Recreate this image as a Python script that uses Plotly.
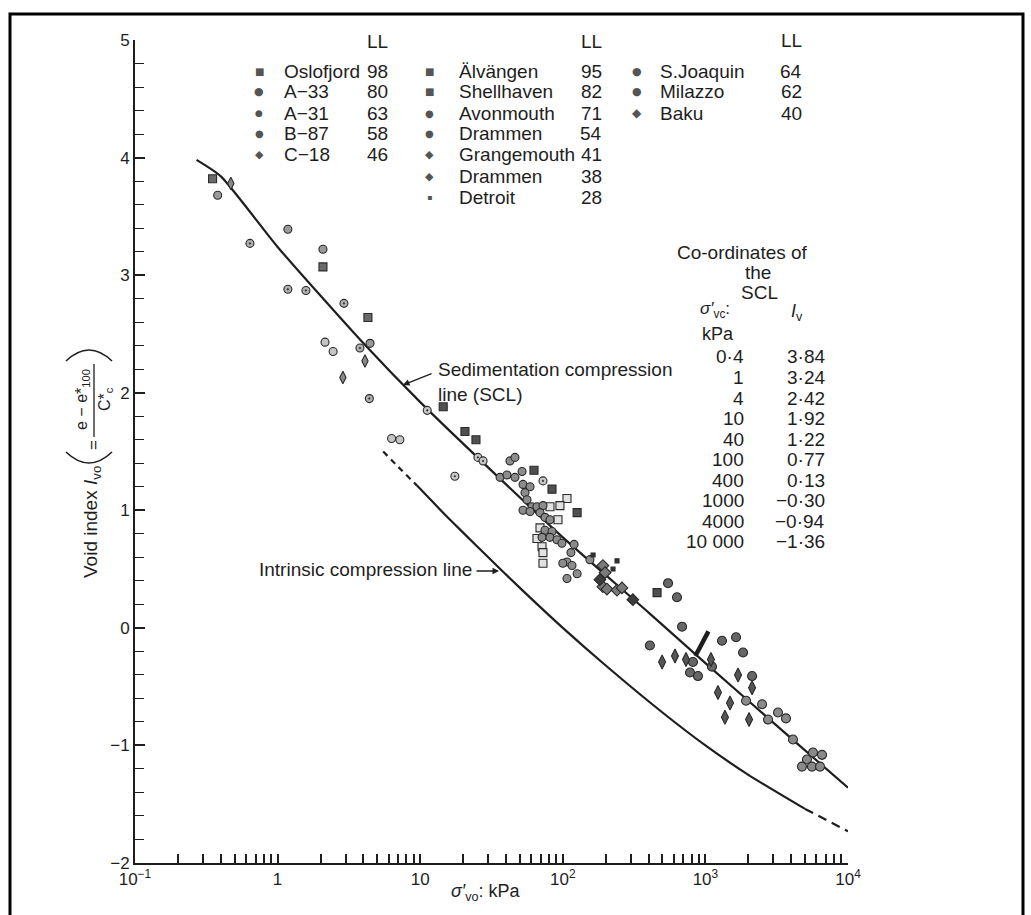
import plotly.graph_objects as go

# ---------------- data ----------------
# Sedimentation compression line (table "Co-ordinates of the SCL")
scl_sigma = [0.4, 1, 4, 10, 40, 100, 400, 1000, 4000, 10000]
scl_iv = [3.84, 3.24, 2.42, 1.92, 1.22, 0.77, 0.13, -0.30, -0.94, -1.36]
scl_start_sigma = 0.27
scl_start_iv = 3.98

# Intrinsic compression line
icl_sigma = [5.5, 7, 9.5, 15, 20, 30, 50, 100, 200, 500, 1000, 2000, 5000, 10000]
icl_iv = [1.50, 1.37, 1.21, 0.96, 0.81, 0.60, 0.34, 0.00, -0.32, -0.72, -1.00, -1.25, -1.54, -1.73]

# short thick bar drawn on the SCL near 10^3 kPa
bar_sigma = [850, 1050]
bar_iv = [-0.24, -0.03]

# sites: name, liquid limit
site_names = ["Oslofjord", "A\u221233", "A\u221231", "B\u221287", "C\u221218",
              "\u00c4lv\u00e4ngen", "Shellhaven", "Avonmouth", "Drammen", "Grangemouth", "Drammen", "Detroit",
              "S.Joaquin", "Milazzo", "Baku"]
site_ll = [98, 80, 63, 58, 46, 95, 82, 71, 54, 41, 38, 28, 64, 62, 40]

oslofjord_sigma = [0.35, 2.08, 4.3]
oslofjord_iv = [3.82, 3.07, 2.64]
a33_sigma = [0.38, 1.18, 2.08, 4.45]
a33_iv = [3.68, 3.39, 3.22, 2.42]
a31_sigma = [2.15, 2.45, 6.3, 7.2]
a31_iv = [2.43, 2.35, 1.61, 1.60]
b87_sigma = [0.64, 1.18, 1.58, 2.92, 3.78, 4.4]
b87_iv = [3.27, 2.88, 2.87, 2.76, 2.38, 1.95]
c18_sigma = [0.47, 2.87, 4.1]
c18_iv = [3.78, 2.13, 2.27]
alvangen_sigma = [107, 95.5, 81.3, 65.9, 71.5, 72.6, 72.6, 69.2, 92.5]
alvangen_iv = [1.10, 1.04, 1.03, 0.76, 0.69, 0.64, 0.55, 0.85, 0.92]
shellhaven_sigma = [14.5, 20.6, 24.6, 62.8, 84, 126, 458]
shellhaven_iv = [1.88, 1.67, 1.60, 1.34, 1.18, 0.98, 0.30]
avonmouth_sigma = [11.2, 17.5, 25.4, 27.6, 72.6]
avonmouth_iv = [1.85, 1.29, 1.45, 1.42, 1.25]
drammen54_sigma = [36.3, 40.6, 46.2, 51.8, 42.6, 46.2, 52.6, 58.9, 54.3, 56.1, 60.8, 65.9, 72.6, 52.6,
                   58.9, 69.2, 75, 81.3, 75, 84, 71.5, 81.3, 91, 98.6, 120, 114, 107, 100, 116, 126, 107, 155]
drammen54_iv = [1.28, 1.30, 1.28, 1.33, 1.42, 1.45, 1.22, 1.20, 1.15, 1.09, 1.03, 1.03, 1.04, 1.00,
                0.99, 0.98, 0.94, 0.92, 0.83, 0.82, 0.77, 0.77, 0.75, 0.72, 0.71, 0.64, 0.56, 0.55, 0.53, 0.46, 0.42, 0.58]
grangemouth_sigma = [191, 198, 191, 204, 240, 260]
grangemouth_iv = [0.53, 0.47, 0.35, 0.33, 0.32, 0.34]
drammen38_sigma = [182, 310]
drammen38_iv = [0.41, 0.24]
detroit_sigma = [163, 225, 240]
detroit_iv = [0.62, 0.50, 0.57]
sjoaquin_sigma = [547, 632, 408, 686, 1307, 1640, 1837, 2125, 818, 780, 887, 1112]
sjoaquin_iv = [0.38, 0.26, -0.15, 0.01, -0.11, -0.08, -0.21, -0.41, -0.29, -0.38, -0.41, -0.33]
milazzo_sigma = [1928, 2497, 2750, 3230, 3673, 4113, 5683, 6577, 5152, 4753, 5585, 6368]
milazzo_iv = [-0.62, -0.65, -0.78, -0.72, -0.77, -0.95, -1.06, -1.08, -1.12, -1.18, -1.18, -1.18]
baku_sigma = [497, 612, 731, 1094, 1694, 2125, 1225, 1488, 1371, 2024]
baku_iv = [-0.29, -0.24, -0.27, -0.27, -0.40, -0.51, -0.55, -0.64, -0.76, -0.78]

site_sigma = [oslofjord_sigma, a33_sigma, a31_sigma, b87_sigma, c18_sigma, alvangen_sigma, shellhaven_sigma,
              avonmouth_sigma, drammen54_sigma, grangemouth_sigma, drammen38_sigma, detroit_sigma,
              sjoaquin_sigma, milazzo_sigma, baku_sigma]
site_iv = [oslofjord_iv, a33_iv, a31_iv, b87_iv, c18_iv, alvangen_iv, shellhaven_iv, avonmouth_iv,
           drammen54_iv, grangemouth_iv, drammen38_iv, detroit_iv, sjoaquin_iv, milazzo_iv, baku_iv]

x_tick_decades = [0.1, 1, 10, 100, 1000, 10000]
x_tick_text = ["10<sup>\u22121</sup>", "1", "10", "10<sup>2</sup>", "10<sup>3</sup>", "10<sup>4</sup>"]
y_tick_vals = [-2, -1, 0, 1, 2, 3, 4, 5]

# ---------------- styles ----------------
FONT = "Liberation Sans, Arial, Helvetica, sans-serif"
GLYPH_FONT = "DejaVu Sans, sans-serif"
INK = "#1e1e1e"
W, H = 1031, 915
L, R, T, B = 135, 848, 40, 863  # plot box in pixels

def pxx(x):
    return (x - L) / (R - L)

def pxy(y):
    return (B - y) / (B - T)

# symbol, fill, size, legend glyph, glyph size
styles = [
    ("square", "#6a6a6a", 8, "\u25a0", 10),
    ("circle", "#9a9a9a", 8, "\u25cf", 11),
    ("circle", "#c4c4c4", 8, "\u25cf", 9),
    ("circle-dot", "#b0b0b0", 8, "\u25cf", 10),
    ("diamond-tall", "#8a8a8a", 9, "\u25c6", 11),
    ("square", "#e2e2e2", 8, "\u25a0", 10),
    ("square", "#505050", 8, "\u25a0", 10),
    ("circle-dot", "#c8c8c8", 8, "\u25cf", 10),
    ("circle", "#8c8c8c", 8, "\u25cf", 10),
    ("diamond", "#7a7a7a", 9, "\u25c6", 11),
    ("diamond", "#3c3c3c", 9, "\u25c6", 11),
    ("square", "#333333", 4, "\u25aa", 8),
    ("circle", "#666666", 9, "\u25cf", 11),
    ("circle", "#8a8a8a", 9, "\u25cf", 11),
    ("diamond-tall", "#555555", 10, "\u25c6", 12),
]

fig = go.Figure()

# SCL
fig.add_trace(go.Scatter(
    x=[scl_start_sigma] + scl_sigma, y=[scl_start_iv] + scl_iv, mode="lines",
    line=dict(color=INK, width=2.2, shape="spline", smoothing=0.6),
    showlegend=False, hoverinfo="skip"))

# ICL: dashed start, solid body, dashed end
for i0, i1, dash in [(0, 3, "6px,5px"), (2, 13, "solid"), (12, 14, "9px,6px")]:
    fig.add_trace(go.Scatter(
        x=icl_sigma[i0:i1], y=icl_iv[i0:i1], mode="lines",
        line=dict(color=INK, width=2.2, shape="spline", smoothing=0.6, dash=dash),
        showlegend=False, hoverinfo="skip"))

fig.add_trace(go.Scatter(x=bar_sigma, y=bar_iv, mode="lines",
                         line=dict(color=INK, width=4.5), showlegend=False, hoverinfo="skip"))

for name, sx, sy, st in zip(site_names, site_sigma, site_iv, styles):
    sym, fill, size = st[0], st[1], st[2]
    fig.add_trace(go.Scatter(
        x=sx, y=sy, mode="markers", name=name,
        marker=dict(symbol=sym, size=size, color=fill, line=dict(color="#2a2a2a", width=1.1)),
        showlegend=False))

ann = []
shapes = []

def text(x, y, s, size=19, xanchor="left", yanchor="middle", angle=0, color=INK, family=FONT, align="left"):
    ann.append(dict(x=pxx(x), y=pxy(y), xref="paper", yref="paper", text=s, showarrow=False,
                    xanchor=xanchor, yanchor=yanchor, textangle=angle, align=align,
                    font=dict(family=family, size=size, color=color)))

# ---- key (three columns) ----
cols = [
    dict(idx=range(0, 5), mark=259, name=282, ll=377, head_y=42),
    dict(idx=range(5, 12), mark=429, name=457, ll=591, head_y=42),
    dict(idx=range(12, 15), mark=637, name=658, ll=791, head_y=41),
]
row_y = [71, 92, 113, 133, 154, 176, 197]
for c in cols:
    text(c["ll"], c["head_y"], "LL", xanchor="center")
    for r, i in enumerate(c["idx"]):
        glyph, gsize = styles[i][3], styles[i][4]
        text(c["mark"], row_y[r], glyph, size=gsize, xanchor="center", color="#555555", family=GLYPH_FONT)
        text(c["name"], row_y[r], site_names[i])
        text(c["ll"], row_y[r], str(site_ll[i]), xanchor="center")

# ---- SCL coordinate table ----
text(742, 252, "Co-ordinates of", xanchor="center")
text(758, 272, "the", xanchor="center")
text(759, 292, "SCL", xanchor="center")
text(698, 310, "<i>\u03c3\u2032</i><sub>vc</sub>:", size=17)
text(700, 334, "kPa", size=18)
text(797, 312, "<i>I</i><sub>v</sub>", xanchor="center", size=18)

def fmt_sigma(v):
    if v < 1:
        return ("%g" % v).replace(".", "\u00b7")
    if v >= 10000:
        return "{:,}".format(int(v)).replace(",", " ")
    return str(int(v))

def fmt_iv(v):
    return ("%.2f" % v).replace(".", "\u00b7").replace("-", "\u2212")

table_y0, table_dy = 357, 20.5
for k, (s, v) in enumerate(zip(scl_sigma, scl_iv)):
    yy = table_y0 + k * table_dy
    text(746, yy, fmt_sigma(s), xanchor="right")
    text(827, yy, fmt_iv(v), xanchor="right")

# ---- line labels ----
text(436, 382, "Sedimentation compression<br>line (SCL)", align="left")
ann.append(dict(x=pxx(403), y=pxy(385), xref="paper", yref="paper", text="", showarrow=True,
                ax=30, ay=-12, arrowhead=2, arrowsize=1, arrowwidth=1.3, arrowcolor=INK))
text(474, 569, "Intrinsic compression line", xanchor="right")
ann.append(dict(x=pxx(499), y=pxy(571), xref="paper", yref="paper", text="", showarrow=True,
                ax=-24, ay=0, arrowhead=2, arrowsize=1, arrowwidth=1.3, arrowcolor=INK))

# ---- axis titles ----
text(486, 893, "<i>\u03c3\u2032</i><sub>vo</sub>: kPa", size=18, xanchor="center")
text(92, 522, "Void index <i>I</i><sub>vo</sub>", size=19, xanchor="center", angle=-90)
text(94, 445, "=", size=17, xanchor="center", angle=-90)
text(82, 400, "e \u2212 e*<sub>100</sub>", size=16, xanchor="center", angle=-90)
text(105, 399, "C*<sub>c</sub>", size=16, xanchor="center", angle=-90)

def path_q(p0, c, p1):
    return "M %f,%f Q %f,%f %f,%f" % (pxx(p0[0]), pxy(p0[1]), pxx(c[0]), pxy(c[1]), pxx(p1[0]), pxy(p1[1]))

shapes.append(dict(type="path", xref="paper", yref="paper",
                   path=path_q((66, 452), (89, 474), (112, 452)), line=dict(color=INK, width=1.6)))
shapes.append(dict(type="path", xref="paper", yref="paper",
                   path=path_q((66, 361), (89, 339), (112, 361)), line=dict(color=INK, width=1.6)))
shapes.append(dict(type="line", xref="paper", yref="paper",
                   x0=pxx(94), x1=pxx(94), y0=pxy(437), y1=pxy(364), line=dict(color=INK, width=1.3)))

# outer frame
shapes.append(dict(type="rect", xref="paper", yref="paper",
                   x0=pxx(10), x1=pxx(1023), y0=pxy(930), y1=pxy(14),
                   line=dict(color="black", width=3), fillcolor="rgba(0,0,0,0)"))

# x ticks: every 1..9 of each decade, labels at decades
x_all_ticks = []
x_all_text = []
for d, lab in zip(x_tick_decades, x_tick_text):
    for m in range(1, 10):
        if d == 10000 and m > 1:
            break
        x_all_ticks.append(d * m)
        x_all_text.append(lab if m == 1 else "")

fig.update_layout(
    width=W, height=H,
    margin=dict(l=L, r=W - R, t=T, b=H - B, pad=0),
    paper_bgcolor="white", plot_bgcolor="white",
    font=dict(family=FONT, size=17, color=INK),
    annotations=ann, shapes=shapes, showlegend=False,
    xaxis=dict(type="log", range=[-1, 4], showline=True, linecolor=INK, linewidth=2,
               showgrid=False, zeroline=False, ticks="inside", ticklen=9, tickwidth=1.6, tickcolor=INK,
               tickmode="array", tickvals=x_all_ticks, ticktext=x_all_text,
               tickfont=dict(family=FONT, size=17, color=INK)),
    yaxis=dict(range=[-2, 5], showline=True, linecolor=INK, linewidth=2,
               showgrid=False, zeroline=False, ticks="inside", ticklen=10, tickwidth=1.8, tickcolor=INK,
               tickmode="array", tickvals=y_tick_vals,
               ticktext=[str(v).replace("-", "\u2212") for v in y_tick_vals],
               minor=dict(dtick=0.2, ticks="inside", ticklen=9, tickwidth=1.4, tickcolor=INK),
               tickfont=dict(family=FONT, size=17, color=INK)),
)

fig.write_html("out.html")
